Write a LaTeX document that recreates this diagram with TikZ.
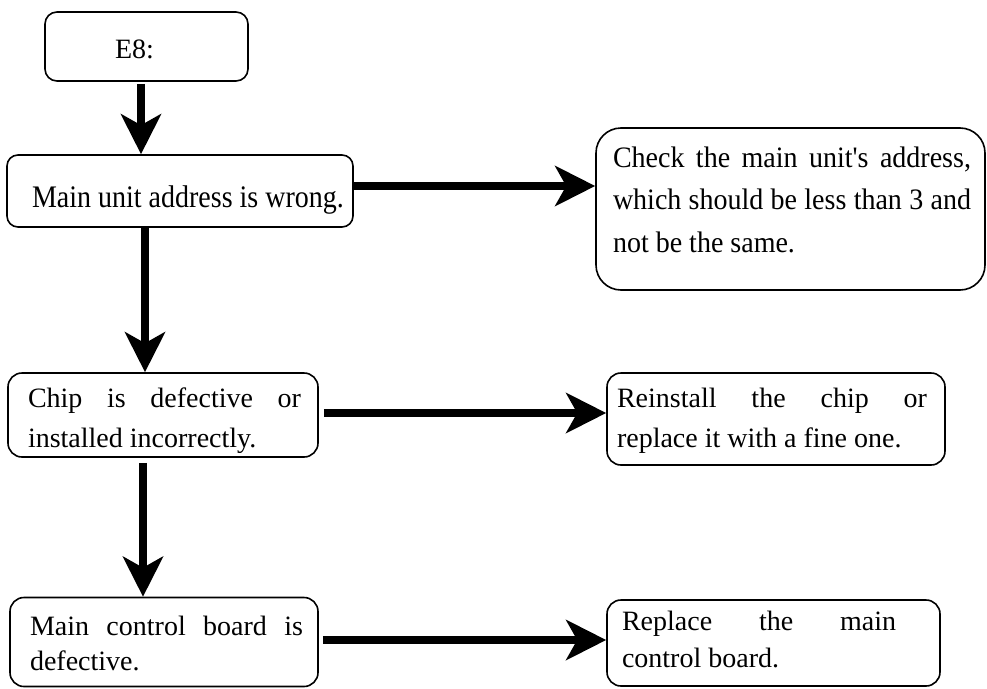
\documentclass[tikz,border=0pt]{standalone}
\usepackage{fontspec}
\setmainfont{Liberation Serif}
\usetikzlibrary{arrows.meta}
\tikzset{
  box/.style={draw=black, line width=1.6pt, rounded corners=#1, inner sep=0pt},
  box/.default=13pt,
  txt/.style={anchor=base west, inner sep=0pt, outer sep=0pt, font=\fontsize{28}{40}\selectfont},
  arr/.style={line width=8pt, -{Stealth[length=40pt, width=40pt, inset=11pt]}}
}
\begin{document}
\begin{tikzpicture}[x=1pt,y=-1pt]
\useasboundingbox (0,0) rectangle (987,688);
% boxes
\node[box=12pt, minimum width=203pt, minimum height=69pt] (E8) at (146.5,46.5) {};
\node[box=11pt, minimum width=346pt, minimum height=72pt] (B1) at (180,191) {};
\node[box=25pt, minimum width=389pt, minimum height=162pt] (Check) at (790.5,209) {};
\node[box=14pt, minimum width=310pt, minimum height=84pt] (Chip) at (163,415) {};
\node[box=14pt, minimum width=338pt, minimum height=92pt] (Reinst) at (776,419) {};
\node[box=14pt, minimum width=308pt, minimum height=89pt] (MainC) at (164,642) {};
\node[box=14pt, minimum width=333pt, minimum height=86pt] (Repl) at (773.5,643) {};
% texts
\node[txt] (tE8) at (115,58) {E8:};
\node[txt] (tB1) at (32,207) {\scalebox{1}[1.12]{Main unit address is wrong.}};
\node[txt] (tCheck) at (613,167) {\scalebox{1}[1.06]{\parbox[t]{358pt}{\fontsize{28}{40.5}\selectfont Check the main unit\textquotesingle s address,\linebreak which should be less than 3 and\linebreak not be the same.}}};
\node[txt] (tChip) at (28,407) {\parbox[t]{273pt}{\fontsize{28}{40}\selectfont Chip is defective or\linebreak installed incorrectly.}};
\node[txt] (tReinst) at (617,407) {\parbox[t]{310pt}{\fontsize{28}{40}\selectfont Reinstall the chip or\linebreak replace it with a fine one.}};
\node[txt] (tMainC) at (30,635) {\parbox[t]{273pt}{\fontsize{28}{35}\selectfont Main control board is\linebreak defective.}};
\node[txt] (tRepl) at (622,630) {\parbox[t]{274pt}{\fontsize{28}{37}\selectfont Replace the main\linebreak control board.}};
% connector guides
\coordinate (x1) at (141,0);
\coordinate (x2) at (145,0);
\coordinate (x3) at (143,0);
\coordinate (y1) at (0,186);
\coordinate (y2) at (0,413);
\coordinate (y3) at (0,640);
% arrows
\draw[arr] ([yshift=-2pt]E8.south -| x1) -- (B1.north -| x1);
\draw[arr] (B1.south -| x2) -- (Chip.north -| x2);
\draw[arr] ([yshift=-5pt]Chip.south -| x3) -- (MainC.north -| x3);
\draw[arr] (B1.east |- y1) -- (Check.west |- y1);
\draw[arr] ([xshift=5pt]Chip.east |- y2) -- (Reinst.west |- y2);
\draw[arr] ([xshift=4pt]MainC.east |- y3) -- (Repl.west |- y3);
\end{tikzpicture}
\end{document}
